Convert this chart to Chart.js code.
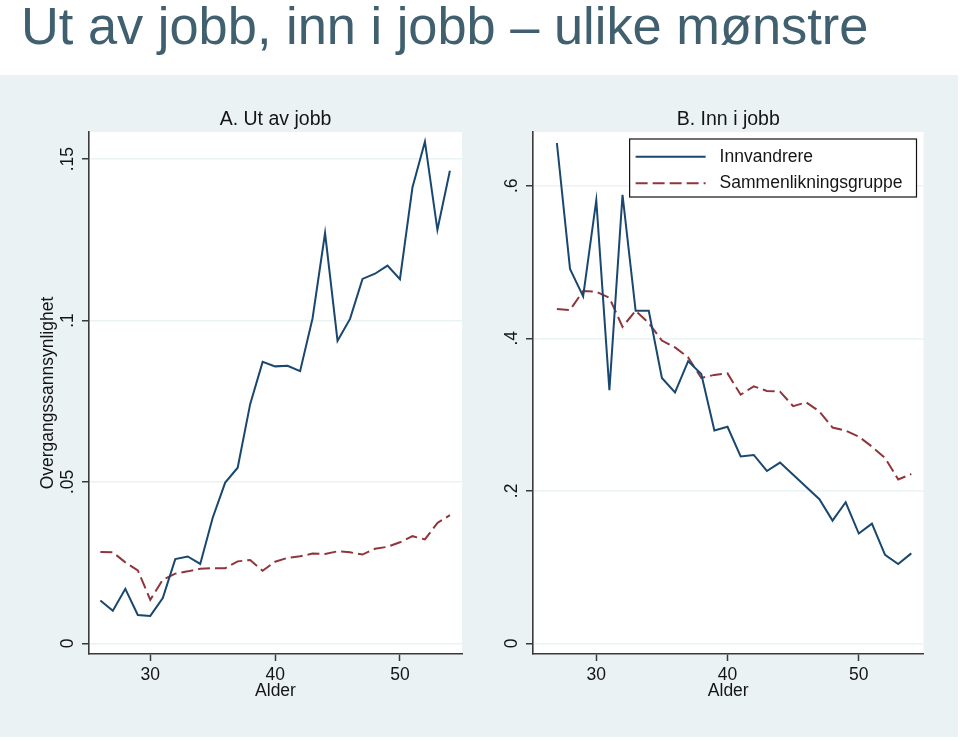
<!DOCTYPE html>
<html>
<head>
<meta charset="utf-8">
<script src="https://cdn.jsdelivr.net/npm/chart.js@4"></script>
<style>
  html, body { margin: 0; padding: 0; background: #fff; }
  #page { position: relative; width: 960px; height: 741px; overflow: hidden; background: #fff;
          font-family: 'Liberation Sans', Arial, sans-serif; }
  #title { position: absolute; left: 21px; top: 0px; font-size: 52.4px; line-height: 52px;
           color: #41606f; white-space: nowrap; }
  #region { position: absolute; left: 0; top: 75px; width: 958px; height: 662px; background: rgb(234,242,243); }
  #chartA { position: absolute; left: 0; top: 75px; }
  #chartB { position: absolute; left: 480px; top: 75px; }
</style>
</head>
<body>
<div id="page">
  <div id="title">Ut av jobb, inn i jobb – ulike mønstre</div>
  <div id="region"></div>
  <canvas id="chartA" width="480" height="662"></canvas>
  <canvas id="chartB" width="480" height="662"></canvas>
</div>
<script>
// alder (x) for hvert panel
var agesA = [26, 27, 28, 29, 30, 31, 32, 33, 34, 35, 36, 37, 38, 39, 40, 41, 42, 43, 44, 45, 46, 47, 48, 49, 50, 51, 52, 53, 54];
var agesB = [27, 28, 29, 30, 31, 32, 33, 34, 35, 36, 37, 38, 39, 40, 41, 42, 43, 44, 45, 46, 47, 48, 49, 50, 51, 52, 53, 54];

// A. Ut av jobb
var innvA = [0.0133, 0.0101, 0.0169, 0.0088, 0.0085, 0.0140, 0.0261, 0.0269, 0.0246, 0.0389, 0.0498, 0.0544, 0.0741, 0.0872, 0.0858,
             0.0860, 0.0843, 0.1007, 0.1271, 0.0937, 0.1005, 0.1129, 0.1145, 0.1170, 0.1128, 0.1412, 0.1554, 0.1281, 0.1464];
var sammA = [0.0283, 0.0282, 0.0251, 0.0226, 0.0135, 0.0197, 0.0216, 0.0223, 0.0231, 0.0233, 0.0233, 0.0254, 0.0258, 0.0225, 0.0253,
             0.0265, 0.0270, 0.0278, 0.0277, 0.0285, 0.0282, 0.0275, 0.0293, 0.0299, 0.0313, 0.0332, 0.0322, 0.0373, 0.0397];

// B. Inn i jobb
var innvB = [0.656, 0.491, 0.455, 0.581, 0.332, 0.588, 0.436, 0.436, 0.348, 0.329, 0.370, 0.353, 0.279, 0.284,
             0.245, 0.247, 0.226, 0.237, 0.221, 0.205, 0.189, 0.161, 0.185, 0.144, 0.157, 0.116, 0.104, 0.118];
var sammB = [0.4385, 0.437, 0.462, 0.461, 0.453, 0.415, 0.436, 0.420, 0.397, 0.388, 0.375, 0.348, 0.352, 0.354,
             0.326, 0.337, 0.331, 0.330, 0.311, 0.316, 0.304, 0.283, 0.279, 0.271, 0.258, 0.243, 0.215, 0.222];

var seriesNames = ['Innvandrere', 'Sammenlikningsgruppe'];
var xTicks = [30, 40, 50];
var yTicksA = [0, 0.05, 0.1, 0.15];
var yTicksB = [0, 0.2, 0.4, 0.6];

var navy = 'rgb(26,71,111)';
var maroon = 'rgb(144,53,59)';
var axisColor = '#3a3a3a';
var gridColor = 'rgb(234,242,243)';
var textColor = '#151515';
var fam = "'Liberation Sans', Arial, sans-serif";

function pts(xs, ys) {
  return xs.map(function (x, i) { return { x: x, y: ys[i] }; });
}
// stata-stil: .05 i stedet for 0.05
function fmt(v) {
  if (v === 0) return '0';
  return String(+v.toFixed(2)).replace(/^0\./, '.');
}

// hvit plotflate
const plotBg = {
  id: 'plotBg',
  beforeDraw(chart) {
    const a = chart.chartArea, ctx = chart.ctx;
    ctx.save();
    ctx.fillStyle = '#fff';
    ctx.fillRect(a.left, a.top, a.right - a.left, a.bottom - a.top);
    ctx.restore();
  }
};

// forklaring med ramme inne i plottet, oppe til hoyre
const boxLegend = {
  id: 'boxLegend',
  afterDatasetsDraw(chart, args, opts) {
    if (!opts.show) return;
    const ctx = chart.ctx, a = chart.chartArea, sets = chart.data.datasets;
    ctx.save();
    ctx.font = '17.5px ' + fam;
    const textW = Math.max.apply(null, sets.map(function (d) { return ctx.measureText(d.label).width; }));
    const w = 6 + 70 + 14 + textW + 14, h = 58;
    const x0 = a.right - 7 - w, y0 = a.top + 7;
    ctx.fillStyle = '#fff';
    ctx.fillRect(x0, y0, w, h);
    ctx.strokeStyle = '#111';
    ctx.lineWidth = 1.2;
    ctx.strokeRect(x0, y0, w, h);
    sets.forEach(function (d, i) {
      const y = y0 + 17.7 + i * 26.6;
      ctx.beginPath();
      ctx.setLineDash(d.borderDash || []);
      ctx.strokeStyle = d.borderColor;
      ctx.lineWidth = d.borderWidth;
      ctx.moveTo(x0 + 6, y);
      ctx.lineTo(x0 + 76, y);
      ctx.stroke();
      ctx.setLineDash([]);
      ctx.fillStyle = textColor;
      ctx.textBaseline = 'middle';
      ctx.fillText(d.label, x0 + 90, y);
    });
    ctx.restore();
  }
};

function panel(id, o) {
  return new Chart(document.getElementById(id), {
    type: 'line',
    data: {
      datasets: [
        { label: seriesNames[0], data: pts(o.ages, o.innv), borderColor: navy, borderWidth: 2,
          pointRadius: 0, tension: 0, fill: false },
        { label: seriesNames[1], data: pts(o.ages, o.samm), borderColor: maroon, borderWidth: 2,
          borderDash: [12, 5], pointRadius: 0, tension: 0, fill: false }
      ]
    },
    options: {
      responsive: false,
      animation: false,
      events: [],
      layout: { padding: { left: 0, right: o.padRight, top: 0, bottom: 0 } },
      plugins: {
        legend: { display: false },
        tooltip: { enabled: false },
        title: { display: true, text: o.title, fullSize: false, color: textColor,
                 font: { family: fam, size: 19.5, weight: 'normal' }, padding: { top: 33.3, bottom: 0.3 } },
        boxLegend: { show: o.legend }
      },
      scales: {
        x: {
          type: 'linear', min: o.xMin, max: o.xMax,
          afterBuildTicks: function (s) { s.ticks = xTicks.map(function (v) { return { value: v }; }); },
          afterFit: function (s) { s.height = 83; },
          ticks: { color: textColor, font: { family: fam, size: 17.5 }, padding: 3.5, maxRotation: 0,
                   callback: function (v) { return String(v); } },
          grid: { drawOnChartArea: false, tickLength: 7, tickColor: axisColor, tickWidth: 1.5 },
          border: { color: axisColor, width: 1.6 },
          title: { display: true, text: 'Alder', color: textColor, font: { family: fam, size: 17.5 },
                   padding: { top: 0, bottom: 35 } }
        },
        y: {
          min: o.yMin, max: o.yMax,
          afterBuildTicks: function (s) { s.ticks = o.yTicks.map(function (v) { return { value: v }; }); },
          afterFit: function (s) { s.width = o.yWidth; },
          ticks: { color: textColor, font: { family: fam, size: 17.5 }, minRotation: 90, maxRotation: 90,
                   crossAlign: 'center', padding: o.yTickPad, callback: function (v) { return fmt(v); } },
          grid: { color: gridColor, lineWidth: 1.5, tickLength: 7, tickColor: axisColor, tickWidth: 1.5 },
          border: { color: axisColor, width: 1.6 },
          title: { display: o.yTitle !== '', text: o.yTitle, color: textColor, font: { family: fam, size: 17.5 },
                   padding: { top: 37.5, bottom: 0 } }
        }
      }
    },
    plugins: [plotBg, boxLegend]
  });
}

var chartA = panel('chartA', {
  title: 'A. Ut av jobb', ages: agesA, innv: innvA, samm: sammA,
  xMin: 25.09, xMax: 54.97, yMin: -0.0033, yMax: 0.1584, yTicks: yTicksA,
  yWidth: 89, yTickPad: 1.8, padRight: 18, yTitle: 'Overgangssannsynlighet', legend: false
});

var chartB = panel('chartB', {
  title: 'B. Inn i jobb', ages: agesB, innv: innvB, samm: sammB,
  xMin: 25.18, xMax: 54.93, yMin: -0.0139, yMax: 0.6704, yTicks: yTicksB,
  yWidth: 53, yTickPad: 6.7, padRight: 36.5, yTitle: '', legend: true
});
</script>
</body>
</html>
